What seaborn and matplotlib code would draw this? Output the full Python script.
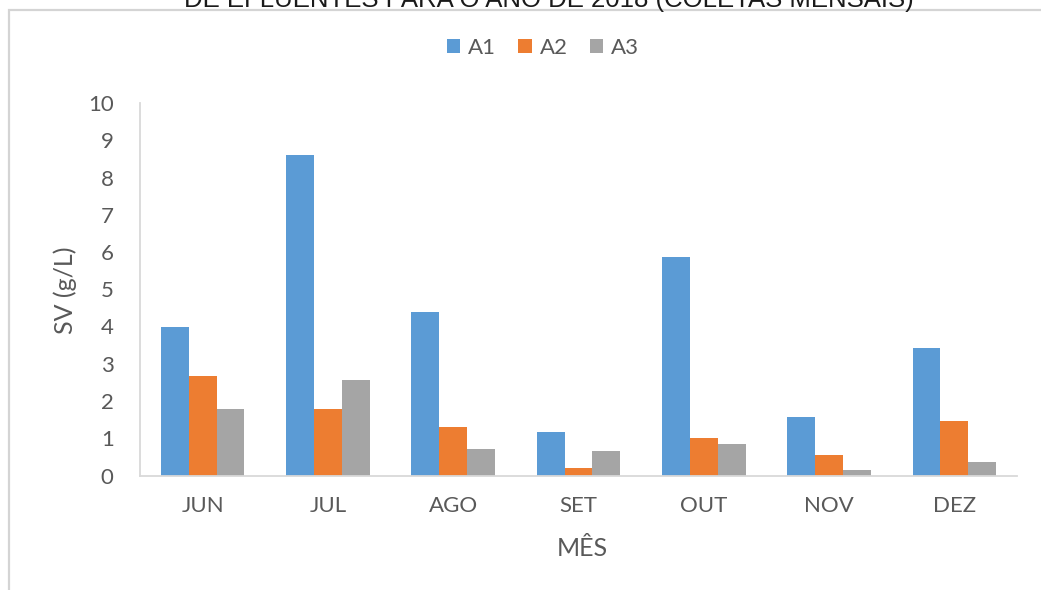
import matplotlib
matplotlib.use("Agg")
import matplotlib.pyplot as plt
from matplotlib.patches import Rectangle, Patch
import pandas as pd
import seaborn as sns

# Monthly settleable-solids readings for the three sampling points
months = ["JUN", "JUL", "AGO", "SET", "OUT", "NOV", "DEZ"]
a1 = [4.0, 8.6, 4.38, 1.16, 5.87, 1.58, 3.43]
a2 = [2.67, 1.79, 1.29, 0.21, 1.01, 0.56, 1.47]
a3 = [1.79, 2.56, 0.70, 0.67, 0.85, 0.15, 0.35]
series = ["A1", "A2", "A3"]
colors = ["#5B9BD5", "#ED7D31", "#A5A5A5"]
yticks = list(range(0, 11))

title = "DE EFLUENTES PARA O ANO DE 2018 (COLETAS MENSAIS)"

df = pd.DataFrame({
    "Mês": months * 3,
    "SV": a1 + a2 + a3,
    "Ponto": [s for s in series for _ in months],
})

sns.set_theme(style="white")
plt.rcParams["font.family"] = ["Lato", "DejaVu Sans"]

W, H = 1041, 590
fig = plt.figure(figsize=(W / 100, H / 100), dpi=100)
fig.patch.set_facecolor("white")

# Chart frame (runs off the right and bottom edges)
fig.patches.append(Rectangle((9 / W, -0.05), 1.2, 1 - 10 / H + 0.05,
                             transform=fig.transFigure, fill=False,
                             edgecolor="#D4D4D4", linewidth=1.6, zorder=0))

# Figure title, partly above the top edge of the page
fig.text(549 / W, 1 - 7 / H, title, ha="center", va="baseline",
         fontsize=18.5, color="#1a1a1a", family=["Liberation Sans", "DejaVu Sans"])

ax = fig.add_axes([140 / W, (H - 475.5) / H, 877 / W, 372.5 / H])
sns.barplot(data=df, x="Mês", y="SV", hue="Ponto", palette=colors,
            width=3 / 4.5, gap=0, saturation=1, errorbar=None, ax=ax,
            legend=False, linewidth=0, edgecolor="none")

ax.set_ylim(0, 10)
ax.set_xlim(-0.5, len(months) - 0.5)
ax.set_yticks(yticks)
ax.set_yticklabels([str(t) for t in yticks])
ax.tick_params(axis="both", length=0, labelsize=16, labelcolor="#595959")
ax.tick_params(axis="y", pad=19)
ax.tick_params(axis="x", pad=15)
for side in ["top", "right"]:
    ax.spines[side].set_visible(False)
for side in ["left", "bottom"]:
    ax.spines[side].set_color("#D9D9D9")
    ax.spines[side].set_linewidth(1.3)
ax.set_xlabel("")
ax.set_ylabel("")
ax.grid(False)

fig.text(65 / W, 1 - 290 / H, "SV (g/L)", rotation=90, ha="center",
         va="center", fontsize=18, color="#595959")
fig.text(582 / W, 1 - 548 / H, "MÊS", ha="center", va="center",
         fontsize=18, color="#595959")

handles = [Patch(facecolor=c, edgecolor="none", label=s)
           for c, s in zip(colors, series)]
fig.legend(handles=handles, loc="center", bbox_to_anchor=(543 / W, 1 - 48 / H),
           ncol=3, frameon=False, fontsize=16, labelcolor="#595959",
           handlelength=0.6, handleheight=0.6, handletextpad=0.35,
           columnspacing=1.0)

fig.savefig("out.png", dpi=100, facecolor="white")
